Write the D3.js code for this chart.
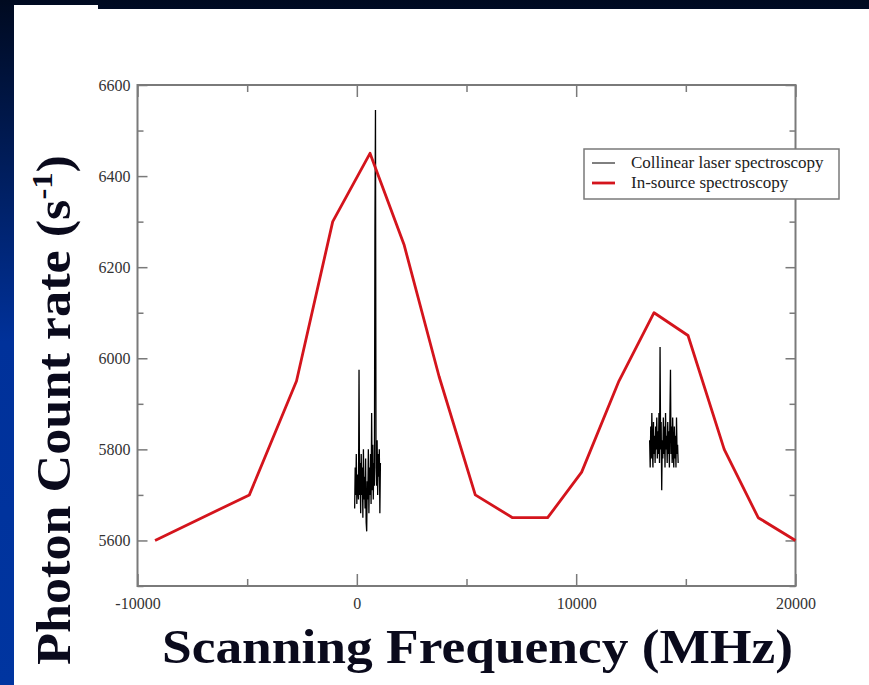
<!DOCTYPE html>
<html>
<head>
<meta charset="utf-8">
<script src="https://cdn.jsdelivr.net/npm/d3@7"></script>
<style>
  html, body { margin: 0; padding: 0; background: #000a20; }
  svg { display: block; }
</style>
</head>
<body>
<svg id="chart" width="869" height="685"></svg>
<script>
// ---------------- DATA ----------------
const xTicksMajor = [-10000, 0, 10000, 20000];
const xTicksMinor = [-5000, 5000, 15000];
const yTicksMajor = [5600, 5800, 6000, 6200, 6400, 6600];
const yTicksMinor = [5500, 5700, 5900, 6100, 6300, 6500];

const seriesNames = ["Collinear laser spectroscopy", "In-source spectroscopy"];

// In-source spectroscopy (red)
const inSourceFreq = [-9200, -4900, -2750, -1100, 600, 2150, 3750, 5400, 7100, 8700, 10250, 11950, 13550, 15100, 16750, 18300, 20000];
const inSourceRate = [5600, 5700, 5950, 6300, 6450, 6250, 5960, 5700, 5650, 5650, 5750, 5950, 6100, 6050, 5800, 5650, 5600];

// Collinear laser spectroscopy (black), cluster near 0 MHz
const collFreqA = [-100, -75, -50, -25, 0, 25, 50, 75, 100, 125, 150, 175, 200, 225, 250, 275, 300, 325, 350, 375,
  400, 425, 450, 475, 500, 525, 550, 575, 600, 625, 650, 675, 700, 725, 750, 775, 800, 825, 850, 875,
  900, 925, 950, 975, 1000, 1025, 1050, 1075];
const collRateA = [5670, 5760, 5700, 5790, 5680, 5745, 5720, 5690, 5975, 5700, 5770, 5660, 5790, 5700, 5760, 5650, 5800, 5690, 5740, 5670,
  5780, 5640, 5620, 5730, 5690, 5800, 5660, 5760, 5700, 5790, 5680, 5880, 5710, 5810, 5690, 5770, 5720, 6285, 6545, 5760,
  5720, 5820, 5700, 5790, 5740, 5800, 5660, 5770];

// Collinear laser spectroscopy (black), cluster near 14000 MHz
const collFreqB = [13350, 13375, 13400, 13425, 13450, 13475, 13500, 13525, 13550, 13575, 13600, 13625, 13650, 13675, 13700, 13725, 13750, 13775,
  13800, 13825, 13850, 13875, 13900, 13925, 13950, 13975, 14000, 14025, 14050, 14075, 14100, 14125, 14150, 14175, 14200, 14225,
  14250, 14275, 14300, 14325, 14350, 14375, 14400, 14425, 14450, 14475, 14500, 14525, 14550, 14575, 14600, 14625, 14650];
const collRateB = [5820, 5760, 5850, 5780, 5880, 5800, 5760, 5860, 5790, 5830, 5770, 5850, 5800, 5870, 5780, 5840, 5790, 5880,
  5770, 6025, 5800, 5860, 5710, 5820, 5780, 5870, 5790, 5850, 5760, 5880, 5800, 5830, 5770, 5860, 5790, 5840,
  5760, 5880, 5975, 5790, 5850, 5770, 5870, 5800, 5760, 5850, 5780, 5830, 5760, 5870, 5790, 5810, 5770];

// ---------------- DRAW ----------------
const svg = d3.select("#chart");
const W = 869, H = 685;
const serif = "'Liberation Serif', 'Times New Roman', serif";

// background
const defs = svg.append("defs");
const grad = defs.append("linearGradient").attr("id", "bg").attr("x1", 0).attr("y1", 0).attr("x2", 0).attr("y2", 1);
grad.append("stop").attr("offset", "0%").attr("stop-color", "#000a20");
grad.append("stop").attr("offset", "50%").attr("stop-color", "#00319a");
grad.append("stop").attr("offset", "100%").attr("stop-color", "#0035a0");
svg.append("rect").attr("width", W).attr("height", H).attr("fill", "url(#bg)");
svg.append("rect").attr("x", 14).attr("y", 9).attr("width", W - 14).attr("height", H - 9).attr("fill", "#ffffff");
svg.append("rect").attr("x", 14).attr("y", 5).attr("width", 84).attr("height", 5).attr("fill", "#ffffff");

const m = { left: 137.5, right: 795.5, top: 85, bottom: 586 };
const x = d3.scaleLinear().domain([-10000, 20000]).range([m.left, m.right]);
const y = d3.scaleLinear().domain([5500, 6600]).range([m.bottom, m.top]);

const axisColor = "#7a7a7a";
const plainFmt = d => String(d);
function styleAxis(g) {
  g.select(".domain").remove();
  g.selectAll(".tick line").attr("stroke", axisColor).attr("stroke-width", 1.5);
  g.selectAll(".tick text").attr("fill", "#333").style("font-family", serif).style("font-size", "16px");
}

// bottom major (with labels) + minor
svg.append("g").attr("transform", `translate(0,${m.bottom})`)
  .call(d3.axisBottom(x).tickValues(xTicksMajor).tickSize(-12).tickPadding(12).tickFormat(plainFmt))
  .call(styleAxis);
svg.append("g").attr("transform", `translate(0,${m.bottom})`)
  .call(d3.axisBottom(x).tickValues(xTicksMinor).tickSize(-7).tickFormat(""))
  .call(styleAxis);
// top
svg.append("g").attr("transform", `translate(0,${m.top})`)
  .call(d3.axisTop(x).tickValues(xTicksMajor).tickSize(-12).tickFormat(""))
  .call(styleAxis);
svg.append("g").attr("transform", `translate(0,${m.top})`)
  .call(d3.axisTop(x).tickValues(xTicksMinor).tickSize(-7).tickFormat(""))
  .call(styleAxis);
// left
svg.append("g").attr("transform", `translate(${m.left},0)`)
  .call(d3.axisLeft(y).tickValues(yTicksMajor).tickSize(-10).tickPadding(7).tickFormat(plainFmt))
  .call(styleAxis);
svg.append("g").attr("transform", `translate(${m.left},0)`)
  .call(d3.axisLeft(y).tickValues(yTicksMinor).tickSize(-6).tickFormat(""))
  .call(styleAxis);
// right
svg.append("g").attr("transform", `translate(${m.right},0)`)
  .call(d3.axisRight(y).tickValues(yTicksMajor).tickSize(-10).tickFormat(""))
  .call(styleAxis);
svg.append("g").attr("transform", `translate(${m.right},0)`)
  .call(d3.axisRight(y).tickValues(yTicksMinor).tickSize(-6).tickFormat(""))
  .call(styleAxis);

// frame
svg.append("rect").attr("x", m.left).attr("y", m.top)
  .attr("width", m.right - m.left).attr("height", m.bottom - m.top)
  .attr("fill", "none").attr("stroke", axisColor).attr("stroke-width", 2);

// lines
const line = d3.line().x(d => x(d[0])).y(d => y(d[1]));
const collA = collFreqA.map((f, i) => [f, collRateA[i]]);
const collB = collFreqB.map((f, i) => [f, collRateB[i]]);
const inSrc = inSourceFreq.map((f, i) => [f, inSourceRate[i]]);

[collA, collB].forEach(d => {
  svg.append("path").datum(d).attr("d", line)
    .attr("fill", "none").attr("stroke", "#000").attr("stroke-width", 1.3);
});
svg.append("path").datum(inSrc).attr("d", line)
  .attr("fill", "none").attr("stroke", "#d4141c").attr("stroke-width", 2.8).attr("stroke-linejoin", "round");

// legend
const lg = svg.append("g");
lg.append("rect").attr("x", 584).attr("y", 149).attr("width", 255).attr("height", 50)
  .attr("fill", "#fff").attr("stroke", axisColor).attr("stroke-width", 1.5);
const legendStyles = [{ c: "#000", w: 1 }, { c: "#d4141c", w: 2.8 }];
seriesNames.forEach((name, i) => {
  const yy = 163 + i * 20;
  lg.append("line").attr("x1", 592).attr("x2", 615).attr("y1", yy).attr("y2", yy)
    .attr("stroke", legendStyles[i].c).attr("stroke-width", legendStyles[i].w);
  lg.append("text").attr("x", 631).attr("y", yy + 5).text(name)
    .style("font-family", serif).style("font-size", "17px").attr("fill", "#222");
});

// axis titles
svg.append("text").attr("x", 162).attr("y", 663)
  .attr("textLength", 631).attr("lengthAdjust", "spacingAndGlyphs")
  .style("font-family", serif).style("font-size", "49px").style("font-weight", "bold")
  .attr("fill", "#0a0a1c").text("Scanning Frequency (MHz)");

const yt = svg.append("text").attr("transform", "translate(70,665) rotate(-90)")
  .attr("textLength", 510).attr("lengthAdjust", "spacingAndGlyphs")
  .style("font-family", serif).style("font-size", "48px").style("font-weight", "bold")
  .attr("fill", "#0a0a1c");
yt.append("tspan").text("Photon Count rate (s");
yt.append("tspan").attr("dy", -18).style("font-size", "30px").text("-1");
yt.append("tspan").attr("dy", 18).text(")");
</script>
</body>
</html>
